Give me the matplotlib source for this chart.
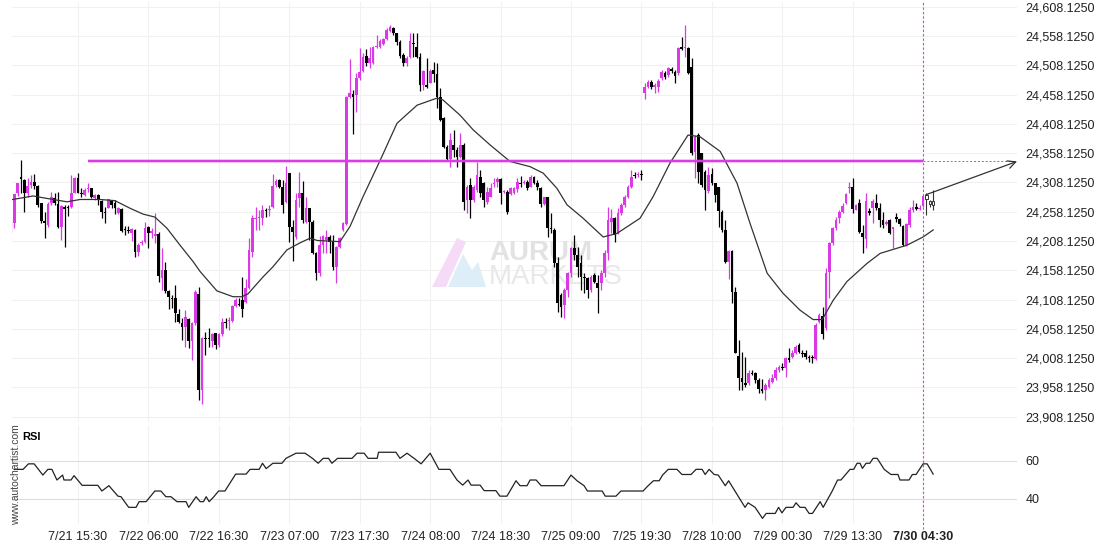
import numpy as np
import matplotlib.pyplot as plt
from matplotlib.patches import Polygon

plt.rcParams['font.family'] = ['Liberation Sans', 'DejaVu Sans']

# ---- 30 min candles (one entry per bar) ----
opens = [
    24227, 24239, 24290, 24317, 24312, 24290, 24304, 24309, 24302, 24273, 24242, 24235, 24273, 24281, 24271, 24232, 24266, 24266, 24266, 24290,
    24316, 24290, 24287, 24297, 24299, 24281, 24287, 24276, 24258, 24264, 24276, 24273, 24256, 24263, 24229, 24227, 24222, 24227, 24189, 24205, 24206,
    24232, 24222, 24217, 24220, 24145, 24159, 24123, 24111, 24111, 24084, 24068, 24061, 24075, 24037, 24068, 24118, 23954, 24043, 24043, 24037,
    24051, 24031, 24049, 24070, 24072, 24072, 24097, 24101, 24107, 24104, 24128, 24189, 24246, 24247, 24247, 24261, 24261, 24266, 24304, 24312,
    24300, 24275, 24324, 24232, 24215, 24281, 24290, 24241, 24265, 24241, 24188, 24153, 24201, 24210, 24215, 24206, 24164, 24198, 24227, 24237,
    24454, 24459, 24457, 24486, 24498, 24524, 24512, 24512, 24539, 24539, 24544, 24553, 24567, 24572, 24563, 24548, 24526, 24512,
    24522, 24546, 24539, 24522, 24474, 24474, 24478, 24500, 24493, 24454, 24418, 24369, 24348, 24372, 24364, 24352, 24372, 24278, 24304, 24278,
    24295, 24317, 24307, 24275, 24283, 24305, 24309, 24314, 24292, 24292, 24288, 24290, 24297, 24307, 24307, 24309, 24300, 24317, 24307, 24299,
    24271, 24283, 24230, 24227, 24171, 24116, 24099, 24124, 24153, 24196, 24184, 24171, 24147, 24145, 24124, 24150, 24136, 24136, 24153, 24188,
    24241, 24247, 24222, 24256, 24270, 24283, 24300, 24321, 24321, 24323,
    24461, 24471, 24480, 24471, 24471, 24486, 24495, 24492, 24502, 24497, 24495, 24539, 24538, 24538, 24505, 24360, 24389, 24358, 24326, 24293,
    24322, 24307, 24300, 24258, 24227, 24172, 24191, 24121, 24012, 23974, 23966, 23966, 23983, 23983, 23971, 23955, 23954, 23959, 23967, 23974,
    23988, 23993, 23991, 24008, 24010, 24017, 24031,
    24017, 24017, 24010, 24010, 24007, 24070, 24080, 24060, 24155, 24205, 24230, 24247, 24258, 24273, 24299, 24300, 24261, 24273, 24222, 24212,
    24259, 24264, 24273, 24264, 24244, 24237, 24244, 24229, 24249, 24246, 24234, 24201, 24235, 24261, 24266, 24263, 24268,
    24280, 24276, 24270,
]
highs = [
    24244, 24288, 24307, 24346, 24314, 24316, 24321, 24322, 24304, 24273, 24258, 24275, 24292, 24290, 24292, 24270, 24270, 24270, 24321, 24317,
    24324, 24299, 24299, 24307, 24299, 24288, 24288, 24278, 24266, 24280, 24278, 24278, 24266, 24264, 24234, 24234, 24230, 24229, 24205, 24210, 24241,
    24234, 24230, 24256, 24223, 24196, 24172, 24124, 24116, 24133, 24092, 24077, 24090, 24077, 24070, 24124, 24130, 24044, 24053, 24060, 24051,
    24051, 24051, 24077, 24077, 24078, 24099, 24111, 24111, 24147, 24143, 24213, 24252, 24266, 24261, 24270, 24264, 24270, 24322, 24314, 24314,
    24312, 24336, 24324, 24244, 24290, 24326, 24310, 24283, 24265, 24244, 24189, 24217, 24218, 24227, 24218, 24218, 24200, 24215, 24241, 24456,
    24519, 24466, 24495, 24538, 24529, 24536, 24539, 24541, 24560, 24553, 24555, 24572, 24577, 24574, 24563, 24551, 24529, 24524,
    24563, 24563, 24563, 24529, 24500, 24521, 24502, 24514, 24512, 24469, 24420, 24372, 24393, 24398, 24369, 24393, 24375, 24304, 24316, 24304,
    24343, 24329, 24309, 24300, 24307, 24316, 24317, 24316, 24295, 24295, 24300, 24300, 24316, 24319, 24312, 24312, 24321, 24319, 24312, 24300,
    24283, 24283, 24256, 24230, 24181, 24119, 24128, 24155, 24198, 24218, 24198, 24184, 24153, 24147, 24150, 24153, 24150, 24159, 24193, 24266,
    24263, 24249, 24265, 24273, 24287, 24304, 24329, 24326, 24326, 24329,
    24478, 24483, 24483, 24478, 24485, 24500, 24498, 24505, 24505, 24500, 24539, 24556, 24577, 24539, 24521, 24389, 24393, 24358, 24329, 24334,
    24333, 24307, 24300, 24261, 24244, 24193, 24193, 24130, 24039, 24019, 24010, 23988, 23988, 23984, 23974, 23972, 23966, 23974, 23981, 23993,
    23996, 24000, 24010, 24025, 24022, 24031, 24034,
    24022, 24022, 24013, 24013, 24068, 24085, 24095, 24162, 24206, 24232, 24249, 24261, 24273, 24290, 24309, 24316, 24271, 24280, 24235, 24290,
    24264, 24280, 24288, 24273, 24258, 24244, 24246, 24232, 24256, 24247, 24235, 24239, 24266, 24278, 24273, 24270, 24287,
    24290, 24278, 24295,
]
lows = [
    24222, 24230, 24285, 24290, 24258, 24283, 24299, 24297, 24266, 24239, 24213, 24232, 24270, 24270, 24230, 24210, 24198, 24251, 24264, 24290,
    24290, 24283, 24285, 24292, 24281, 24278, 24270, 24247, 24239, 24264, 24264, 24254, 24254, 24223, 24218, 24222, 24208, 24181, 24183, 24201, 24205,
    24196, 24213, 24205, 24138, 24124, 24119, 24092, 24094, 24070, 24068, 24039, 24027, 24025, 24005, 24065, 23937, 23930, 24013, 24027, 24027,
    24024, 24027, 24046, 24060, 24056, 24070, 24095, 24097, 24078, 24102, 24126, 24181, 24227, 24227, 24235, 24249, 24251, 24264, 24300, 24299,
    24256, 24273, 24206, 24174, 24211, 24266, 24239, 24239, 24210, 24186, 24141, 24148, 24188, 24188, 24188, 24159, 24136, 24196, 24225, 24235,
    24452, 24391, 24428, 24483, 24497, 24507, 24503, 24510, 24538, 24538, 24543, 24551, 24565, 24560, 24543, 24521, 24507, 24507,
    24521, 24522, 24521, 24464, 24466, 24469, 24478, 24480, 24435, 24413, 24367, 24346, 24334, 24352, 24334, 24350, 24261, 24256, 24247, 24275,
    24292, 24283, 24266, 24271, 24283, 24300, 24300, 24271, 24290, 24254, 24287, 24288, 24292, 24300, 24305, 24295, 24300, 24305, 24295, 24266,
    24270, 24215, 24222, 24164, 24087, 24078, 24077, 24112, 24147, 24176, 24147, 24124, 24119, 24111, 24121, 24136, 24085, 24124, 24147, 24176,
    24222, 24206, 24220, 24253, 24266, 24281, 24299, 24316, 24317, 24312,
    24451, 24469, 24468, 24461, 24463, 24483, 24485, 24488, 24495, 24478, 24492, 24534, 24522, 24493, 24355, 24316, 24307, 24300, 24261, 24290,
    24304, 24275, 24232, 24224, 24171, 24143, 24102, 24017, 23954, 23954, 23959, 23962, 23979, 23966, 23949, 23949, 23937, 23957, 23966, 23971,
    23985, 23988, 23976, 24002, 24008, 24015, 24017,
    24010, 24007, 24002, 24000, 24005, 24068, 24041, 24056, 24111, 24201, 24227, 24239, 24256, 24271, 24290, 24256, 24261, 24222, 24188, 24196,
    24253, 24239, 24261, 24232, 24230, 24235, 24220, 24196, 24241, 24234, 24200, 24200, 24232, 24258, 24261, 24261, 24266,
    24252, 24266, 24261,
]
closes = [
    24239, 24288, 24307, 24314, 24290, 24302, 24309, 24302, 24270, 24242, 24239, 24271, 24283, 24273, 24232, 24268, 24263, 24264, 24290, 24316,
    24290, 24288, 24295, 24299, 24283, 24287, 24278, 24258, 24256, 24280, 24270, 24264, 24264, 24225, 24227, 24225, 24229, 24189, 24201, 24206, 24230,
    24222, 24225, 24220, 24148, 24159, 24123, 24112, 24109, 24085, 24070, 24061, 24078, 24037, 24068, 24121, 23954, 24043, 24041, 24041, 24049,
    24031, 24049, 24070, 24068, 24073, 24097, 24107, 24099, 24092, 24128, 24193, 24247, 24247, 24249, 24261, 24259, 24263, 24302, 24311, 24300,
    24270, 24307, 24232, 24223, 24278, 24290, 24244, 24265, 24241, 24188, 24153, 24201, 24217, 24215, 24206, 24164, 24198, 24213, 24239, 24454,
    24461, 24454, 24486, 24497, 24522, 24512, 24521, 24539, 24541, 24550, 24553, 24568, 24574, 24563, 24548, 24524, 24512, 24521,
    24550, 24544, 24522, 24474, 24498, 24471, 24498, 24493, 24454, 24415, 24369, 24348, 24381, 24364, 24352, 24372, 24275, 24300, 24278, 24300,
    24321, 24290, 24278, 24292, 24299, 24307, 24314, 24290, 24294, 24258, 24299, 24299, 24309, 24305, 24309, 24299, 24317, 24307, 24300, 24271,
    24283, 24230, 24229, 24171, 24102, 24095, 24124, 24153, 24196, 24184, 24164, 24147, 24145, 24124, 24147, 24138, 24128, 24153, 24188, 24244,
    24247, 24218, 24256, 24270, 24283, 24300, 24317, 24319, 24323, 24321,
    24471, 24480, 24471, 24474, 24481, 24497, 24488, 24504, 24498, 24490, 24538, 24536, 24539, 24495, 24358, 24386, 24326, 24304, 24295, 24321,
    24307, 24287, 24259, 24227, 24172, 24191, 24121, 24017, 23974, 23967, 23962, 23983, 23981, 23971, 23955, 23952, 23962, 23971, 23974, 23988,
    23993, 23991, 24008, 24005, 24017, 24027, 24019,
    24015, 24010, 24008, 24008, 24065, 24082, 24049, 24153, 24205, 24230, 24244, 24258, 24268, 24288, 24300, 24263, 24270, 24223, 24215, 24276,
    24256, 24276, 24264, 24244, 24235, 24241, 24222, 24232, 24246, 24237, 24201, 24237, 24261, 24266, 24263, 24264, 24285,
    24285, 24273, 24275,
]

# moving average line (bar index, value)
ma_idx = [0.5, 6.6, 9.5, 16.7, 20.6, 26.5, 31, 35.5, 39.4, 42.9,
          46.5, 50.4, 54.3, 56.4, 61.4, 66.2, 68.9, 70.7, 75.2, 78.1,
          82.3, 86.2, 89.2, 91.3, 98.1, 101.1, 105, 110.1, 115.1, 121.1,
          127, 128.8, 133.9, 137.8, 142.9, 148.8, 154.8, 158.7, 162.8, 165.8,
          170.6, 176.6, 180.7, 187.6, 191.5, 196.5, 201.9, 205.5, 211.5, 216.5,
          220.4, 225.5, 230.2, 235.3, 239.2, 241.9, 245.2, 249.3, 255.3, 259.2,
          267.2, 272, 275]
ma_val = [24279, 24285, 24282, 24275, 24279, 24279, 24277, 24264, 24254, 24249,
          24230, 24201, 24173, 24156, 24123, 24113, 24113, 24118, 24147, 24164,
          24193, 24205, 24213, 24209, 24207, 24233, 24284, 24346, 24409, 24440,
          24452, 24449, 24423, 24398, 24372, 24344, 24335, 24324, 24298, 24270,
          24247, 24215, 24221, 24247, 24284, 24341, 24389, 24386, 24361, 24307,
          24238, 24153, 24119, 24090, 24074, 24074, 24107, 24139, 24170, 24187,
          24201, 24215, 24227]

# RSI (bar index, value)
rsi_idx = [1, 3.6, 5.2, 6.9, 9.5, 11, 12.2, 13.7, 15.4, 15.8,
           17.9, 18.8, 21.2, 25.9, 27.1, 29.2, 31.9, 32.8, 35.1, 37.3,
           38.2, 40.3, 42.9, 44.7, 46.2, 47.7, 49.5, 52.2, 53, 55.2,
           56.4, 57.4, 58.2, 59.1, 60.5, 61.9, 63.8, 65.9, 67, 70.1,
           71.3, 74, 75, 76.1, 78.1, 80.8, 82, 85, 87.7, 89.9,
           91.6, 93.1, 94.7, 95.7, 97.4, 101.7, 103.2, 105.3, 106.5, 109.2,
           109.6, 114.8, 116, 118.1, 120.2, 122.3, 125, 127.6, 130.9, 133,
           134.7, 136.3, 137.2, 139.9, 141.1, 144.6, 145.8, 147.9, 150.6, 151.8,
           153.9, 154.8, 156.6, 158.1, 164.9, 167, 168.8, 170.9, 171.9, 176.3,
           177.2, 180.4, 181.9, 188.5, 190, 191.6, 193.3, 194.3, 196, 198.6,
           200.1, 202.8, 204.3, 206.1, 207, 208.2, 209.7, 210.9, 213, 214,
           218.9, 219.8, 221.9, 224.1, 225.2, 227.9, 228.9, 229.9, 231.1, 233.2,
           234.1, 235.3, 236.8, 238, 239, 241.3, 242.2, 244.9, 246.5, 247.5,
           250.2, 251.3, 252.3, 253.2, 253.9, 255, 256.1, 257.1, 258.3, 260.4,
           262.4, 264.5, 265.1, 267.8, 268.8, 269.9, 272, 273.2, 275]
rsi_val = [55.6, 55.6, 58.5, 58.5, 52.6, 55.6, 55.6, 50, 52.6, 50,
           50, 52.3, 47.2, 47.2, 44.2, 47, 41.5, 41.2, 35.6, 35.6,
           38.6, 38.6, 44.2, 44.2, 41.2, 41.2, 38.6, 38.6, 35.6, 41.2,
           38.6, 38.6, 41.2, 38.6, 41.2, 44.2, 44.2, 50, 53.1, 53.1,
           55.6, 55.6, 58.8, 56, 58.8, 58.8, 61.4, 64.1, 64.1, 61.4,
           58.8, 61.4, 61.4, 58.8, 61.4, 61.4, 64.1, 64.1, 61.4, 61.4,
           64.6, 64.6, 61.4, 64.1, 61.4, 58.5, 64.1, 55.6, 55.6, 50,
           47.3, 50, 47.3, 47.3, 44.4, 44.4, 41.5, 41.5, 49.6, 47,
           47, 50, 50, 47, 47, 52.6, 49.6, 47, 44.2, 44.2,
           41.5, 41.5, 44.2, 44.2, 47, 49.6, 49.6, 52.6, 55.6, 55.6,
           52.9, 52.9, 55.6, 55.6, 52.9, 55.6, 52.9, 52.6, 47, 49.6,
           35.6, 38, 35.6, 29.8, 32.4, 32.4, 35.6, 32.7, 35.6, 35.6,
           38, 35.6, 35.6, 32.4, 32.4, 38.6, 35.6, 44.2, 50, 50,
           55.6, 55.6, 58.8, 58.8, 56.1, 58.8, 58.8, 61.4, 61.4, 55.6,
           52.9, 52.9, 50, 50, 52.9, 52.9, 58.5, 58.5, 53.1]

tick_idx = [20, 41, 62, 83, 104, 125, 146, 167, 188, 209, 230, 251, 272]
tick_labels = ['7/21 15:30', '7/22 06:00', '7/22 16:30', '7/23 07:00', '7/23 17:30',
               '7/24 08:00', '7/24 18:30', '7/25 09:00', '7/25 19:30', '7/28 10:00',
               '7/29 00:30', '7/29 13:30', '7/30 04:30']
price_ticks = np.arange(23908.125, 24608.2, 50)
level = 24344          # resistance line
signal_bar = 272       # pattern end / dashed marker
target = 24344

MAGENTA = '#d93ae6'
W, H = 1110, 550


def box(l, t, r, b):
    return [l / W, 1 - b / H, (r - l) / W, (b - t) / H]


fig = plt.figure(figsize=(W / 100, H / 100), dpi=100)
ax = fig.add_axes(box(12, 2, 1017, 422))
ax2 = fig.add_axes(box(12, 426, 1017, 524), sharex=ax)

o, h, l, c = map(np.array, (opens, highs, lows, closes))
idx = np.arange(len(o))
up = c >= o
hollow = idx > signal_bar
solid = ~hollow
cols = np.where(up, MAGENTA, 'black')
body_lo = np.minimum(o, c)
body_h = np.maximum(np.abs(c - o), 1.6)

ax.vlines(idx[solid], l[solid], h[solid], colors=cols[solid], lw=0.9, zorder=3)
ax.bar(idx[solid], body_h[solid], bottom=body_lo[solid], width=0.8,
       color=cols[solid], lw=0, zorder=4)
ax.vlines(idx[hollow], l[hollow], h[hollow], colors='#333333', lw=0.8, zorder=3)
ax.bar(idx[hollow], body_h[hollow] + 2, bottom=body_lo[hollow] - 1, width=0.75,
       color='white', edgecolor='#333333', lw=0.7, zorder=4)

ax.plot(ma_idx, ma_val, color='#333333', lw=0.9, zorder=5)

# resistance line and projection
ax.hlines(level, 23, signal_bar, color=MAGENTA, lw=3.0, alpha=0.3, zorder=6)
ax.hlines(level, 23, signal_bar, color=MAGENTA, lw=1.4, zorder=6)
ax.hlines(level, signal_bar, 300, color=MAGENTA, lw=0.7, linestyles=(0, (2, 2)), zorder=6)
ax.annotate('', xy=(300, target), xytext=(272.8, 24287), annotation_clip=False,
            arrowprops=dict(arrowstyle='->', color='#333333', lw=0.9,
                            mutation_scale=14, shrinkA=0, shrinkB=0), zorder=7)
ax.axvline(signal_bar, ymin=-0.012, color=MAGENTA, lw=0.8, ls=(0, (2, 2)),
           clip_on=False, zorder=6)
ax2.axvline(signal_bar, ymin=-0.05, color=MAGENTA, lw=0.8, ls=(0, (2, 2)),
            clip_on=False, zorder=6)

# watermark
ax.text(0.4746, 0.402, 'AURUM', transform=ax.transAxes, fontsize=20,
        fontweight='bold', color='#e2e2e2', va='center', ha='left', zorder=1)
ax.text(0.4746, 0.345, 'MARKETS', transform=ax.transAxes, fontsize=20,
        color='#e8e8e8', va='center', ha='left', zorder=1)


def px(x, y):
    return ((x - 12) / 1005, (422 - y) / 420)


ax.add_patch(Polygon([px(432, 287), px(446, 287), px(466, 242), px(457, 238)],
                     closed=True, transform=ax.transAxes, color='#f5dbf7', lw=0, zorder=1))
ax.add_patch(Polygon([px(448, 287), px(463, 254), px(472, 270), px(478, 262), px(486, 287)],
                     closed=True, transform=ax.transAxes, color='#ddeef9', lw=0, zorder=1))

ax.set_xlim(0.3, 300)
ax.set_ylim(23899.1, 24616.15)
ax.set_yticks(price_ticks)
ax.set_yticklabels([f'{v:,.4f}' for v in price_ticks])
ax.set_xticks(tick_idx)
ax.yaxis.tick_right()
ax.tick_params(axis='y', length=0, pad=6, labelsize=9, labelcolor='#222222')
ax.tick_params(axis='x', length=0, labelbottom=False)
ax.grid(True, color='#f1f1f1', lw=0.8)
ax.set_axisbelow(True)

# RSI panel
ax2.plot(rsi_idx, rsi_val, color='#222222', lw=0.9, zorder=5)
ax2.set_ylim(26.84, 78.42)
ax2.set_yticks([40, 60])
ax2.yaxis.tick_right()
ax2.tick_params(axis='y', length=0, pad=6, labelsize=9, labelcolor='#222222')
ax2.set_xticks(tick_idx)
ax2.set_xticklabels(tick_labels)
ax2.tick_params(axis='x', length=0, pad=5, labelsize=9, labelcolor='#222222')
ax2.get_xticklabels()[-1].set_fontweight('bold')
ax2.grid(True, axis='x', color='#f1f1f1', lw=0.8)
ax2.grid(True, axis='y', color='#dcdcdc', lw=0.8)
ax2.set_axisbelow(True)

for a in (ax, ax2):
    for s in a.spines.values():
        s.set_visible(False)

fig.text(22 / W, 1 - 437 / H, 'RSI', fontsize=8, fontweight='bold', va='center', ha='left')
fig.text(16 / W, 1 - 475 / H, 'www.autochartist.com', rotation=90, fontsize=7.5,
         color='#444444', va='center', ha='center')

fig.savefig('out.png', dpi=100)
